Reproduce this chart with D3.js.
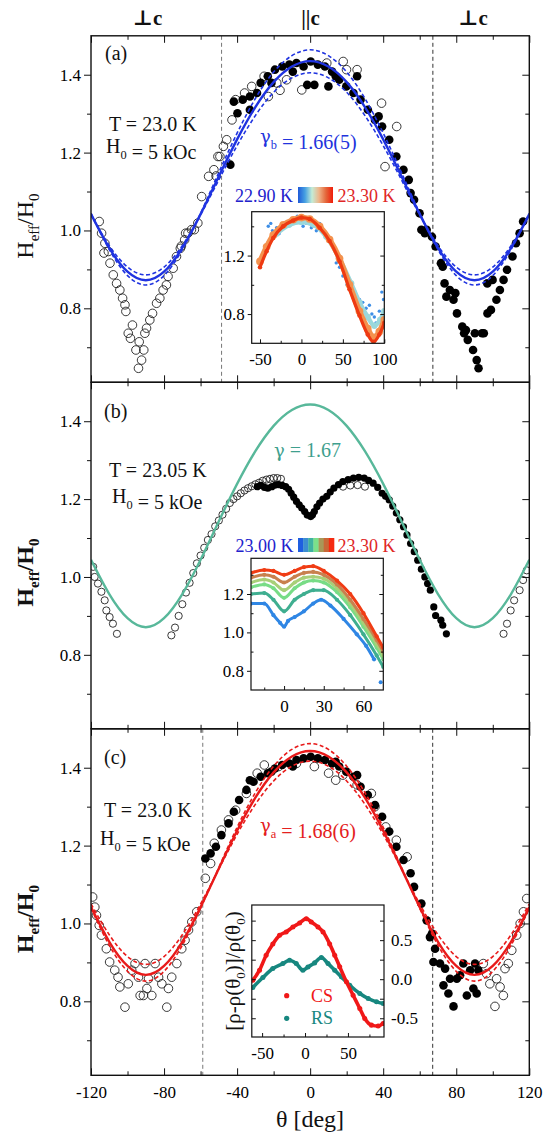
<!DOCTYPE html>
<html>
<head>
<meta charset="utf-8">
<script src="https://cdn.jsdelivr.net/npm/d3@7"></script>
<style>
  body { margin: 0; background: #fff; }
  text { font-family: "Liberation Serif", "DejaVu Serif", serif; }
</style>
</head>
<body>
<svg id="chart" width="560" height="1135"></svg>
<script>
// ---------- data ----------
const fitTheta = [-120,-110,-100,-90,-80,-70,-60,-50,-40,-30,-20,-10,0,10,20,30,40,50,60,70,80,90,100,110,120];

// panel (a): gamma_b fit and its error band
const fitA   = [1.042,0.955,0.894,0.872,0.894,0.955,1.042,1.139,1.234,1.317,1.381,1.421,1.435,1.421,1.381,1.317,1.234,1.139,1.042,0.955,0.894,0.872,0.894,0.955,1.042];
const fitAHi = [1.044,0.951,0.884,0.860,0.884,0.951,1.044,1.149,1.250,1.339,1.407,1.449,1.464,1.449,1.407,1.339,1.250,1.149,1.044,0.951,0.884,0.860,0.884,0.951,1.044];
const fitALo = [1.040,0.961,0.906,0.886,0.906,0.961,1.040,1.130,1.218,1.295,1.355,1.392,1.405,1.392,1.355,1.295,1.218,1.130,1.040,0.961,0.906,0.886,0.906,0.961,1.040];
// panel (b): gamma = 1.67
const fitB   = [1.044,0.956,0.894,0.871,0.894,0.956,1.044,1.143,1.239,1.323,1.388,1.429,1.443,1.429,1.388,1.323,1.239,1.143,1.044,0.956,0.894,0.871,0.894,0.956,1.044];
// panel (c): gamma_a fit and its error band
const fitC   = [1.042,0.953,0.891,0.868,0.891,0.953,1.042,1.141,1.238,1.323,1.388,1.429,1.443,1.429,1.388,1.323,1.238,1.141,1.042,0.953,0.891,0.868,0.891,0.953,1.042];
const fitCHi = [1.039,0.944,0.877,0.852,0.877,0.944,1.039,1.144,1.247,1.336,1.404,1.447,1.462,1.447,1.404,1.336,1.247,1.144,1.039,0.944,0.877,0.852,0.877,0.944,1.039];
const fitCLo = [1.050,0.971,0.915,0.895,0.915,0.971,1.050,1.140,1.229,1.306,1.366,1.404,1.417,1.404,1.366,1.306,1.229,1.140,1.050,0.971,0.915,0.895,0.915,0.971,1.050];

const openA = [[-115.5,1.023],[-114.2,0.993],[-112.9,0.942],[-112.4,0.967],[-110.5,0.946],[-109.6,0.916],[-107.8,0.886],[-106,0.864],[-104.2,0.847],[-102.7,0.826],[-101.4,0.809],[-100.9,0.792],[-99.6,0.736],[-98.4,0.723],[-97.3,0.757],[-95.4,0.693],[-94,0.646],[-93.6,0.714],[-92.3,0.667],[-91.1,0.693],[-90.5,0.736],[-89.6,0.749],[-87.8,0.770],[-86.3,0.787],[-84.1,0.813],[-82.3,0.826],[-80.5,0.847],[-78.7,0.860],[-77.8,0.882],[-75,0.903],[-73.2,0.933],[-71.1,0.954],[-70.5,0.960],[-68.7,0.976],[-68.2,0.993],[-66.9,0.993],[-65,1.002],[-63.4,1.002],[-61.5,1.019],[-59.4,1.087],[-55.6,1.139],[-52.7,1.156],[-51.5,1.14],[-50.5,1.19],[-49.4,1.19],[-47.5,1.216],[-45.7,1.233],[-42.8,1.284],[-40.8,1.336],[-35.9,1.353],[-32,1.37],[-25.2,1.396],[-22.9,1.344],[-18.3,1.379],[-16.5,1.36],[-12.9,1.387],[-4.6,1.361],[9.1,1.43],[18.1,1.434],[19.9,1.413],[25.7,1.413],[39.1,1.327],[41,1.164],[47.4,1.267]];
const filledA = [[-43.7,1.169],[-41.8,1.331],[-39.8,1.301],[-36.9,1.336],[-33,1.344],[-33,1.31],[-29.1,1.353],[-27.1,1.379],[-23.2,1.396],[-21.2,1.379],[-19.3,1.413],[-15.3,1.421],[-11.4,1.426],[-9.5,1.408],[-7.5,1.43],[-3.6,1.421],[-1.6,1.374],[0.3,1.434],[2.3,1.374],[4.2,1.426],[8.1,1.421],[10,1.37],[12,1.408],[14,1.396],[15.9,1.387],[19.8,1.37],[23.7,1.353],[25.7,1.396],[27.6,1.336],[31.6,1.31],[35.5,1.284],[37.5,1.293],[39.4,1.267],[43.3,1.233],[47.2,1.19],[51.1,1.156],[54,1.13],[55,1.096],[56.9,1.079],[59.9,1.044],[60.9,1.002],[62.8,0.993],[63.8,1.002],[66.7,0.984],[68.7,0.959],[71.6,0.916],[72.6,0.907],[73.6,0.864],[74.6,0.83],[76.5,0.847],[78.5,0.822],[79.5,0.839],[80.4,0.787],[83.3,0.753],[84.3,0.736],[85.3,0.744],[86.3,0.719],[89.2,0.693],[90.2,0.736],[91.2,0.667],[92.2,0.646],[94.1,0.736],[95.1,0.736],[97,0.864],[97.1,0.787],[99,0.796],[99.9,0.873],[102,0.822],[103.9,0.847],[105.9,0.873],[107.8,0.899],[110.8,0.933],[112.7,0.967],[114.7,0.993],[116.6,1.023]];

const openB = [[-118.8,1.026],[-118,1.0],[-116.2,0.983],[-114.3,0.962],[-112.5,0.94],[-111.6,0.914],[-109.8,0.897],[-108,0.88],[-105.8,0.854],
  [-76,0.85],[-74,0.87],[-72,0.9],[-70,0.93],[-68,0.96],[-66,0.985],[-64,1.01],[-62,1.035],[-60,1.055],[-58,1.075],[-56,1.095],[-54,1.11],[-52,1.13],[-50,1.145],[-48,1.16],[-46,1.175],[-44,1.19],[-42,1.2],[-40,1.207],[-38,1.215],[-36,1.222],[-34,1.228],[-32,1.233],[-30,1.238],[-28,1.242],[-26,1.247],[-24,1.25],[-22,1.252],[-20,1.254],[-18,1.254],[-16,1.252],
  [18,1.232],[22,1.235],[26,1.236],[30,1.232],
  [105.9,0.854],[107.8,0.88],[109.8,0.914],[111.7,0.94],[114.7,0.966],[116.6,0.992],[118.6,1.017]];
const filledB = [[-29,1.232],[-27,1.235],[-25,1.23],[-23.2,1.228],[-21,1.232],[-19,1.236],[-17.3,1.237],[-15.3,1.235],[-13.4,1.232],[-11.8,1.225],[-10.4,1.215],[-9,1.205],[-7.5,1.194],[-6,1.185],[-4.6,1.177],[-3,1.168],[-1.6,1.159],[0.3,1.155],[1.3,1.16],[2.3,1.168],[3.7,1.18],[5.2,1.19],[7,1.2],[9.1,1.207],[11,1.218],[13,1.228],[15.5,1.237],[17.9,1.245],[20.8,1.25],[23.7,1.254],[26.6,1.256],[29.6,1.254],[32,1.248],[34.5,1.241],[37,1.23],[39.4,1.215],[41.3,1.207],[43.3,1.198],[45.2,1.182],[47.2,1.164],[49.1,1.147],[51.1,1.129],[53,1.108],[55,1.086],[57,1.065],[58.9,1.043],[60.9,1.02],[62.8,1.0],[64.3,0.983],[65.8,0.966],[67.7,0.923],[68.7,0.901],[71.6,0.889],[72.6,0.876],[74.6,0.854]];

const openC = [[-119.1,1.068],[-117.9,1.042],[-117,1.021],[-115.5,0.995],[-114.3,0.97],[-111.6,0.935],[-109.8,0.901],[-107,0.88],[-105.2,0.862],[-104.2,0.837],[-101.4,0.785],[-99.6,0.845],[-97.7,0.88],[-95.9,0.897],[-94,0.862],[-93.1,0.815],[-91.3,0.815],[-90.4,0.897],[-89.4,0.833],[-88.5,0.858],[-86.7,0.815],[-84.9,0.897],[-83,0.862],[-81.2,0.845],[-78.5,0.785],[-77.6,0.833],[-75.8,0.862],[-73,0.897],[-70.3,0.935],[-68.5,0.957],[-66.6,0.983],[-64.8,1.004],[-62.1,1.03],
  [-57.4,1.116],[-54.5,1.154],[-52.5,1.206],[-48.6,1.24],[-44.7,1.266],[-40.8,1.291],[-34.9,1.334],[-29,1.386],[-25.1,1.407],[-17.3,1.403],[-7.5,1.411],[2.3,1.403],[10.1,1.386],[14,1.368],[17.9,1.381],[25.7,1.356],[33.5,1.334],[35.5,1.3],[41.4,1.248],[47.2,1.214],[53.1,1.171],
  [94.8,0.897],[96.6,0.871],[98.4,0.845],[101.2,0.787],[102.1,0.858],[104,0.837],[105.8,0.815],[106.7,0.884],[108.5,0.897],[110.4,0.931],[113.1,0.97],[115,1.0],[116.8,1.03],[118.6,1.064]];
const filledC = [[-57.4,1.167],[-54.5,1.18],[-51.6,1.197],[-48.6,1.227],[-44.7,1.257],[-41.8,1.287],[-38.9,1.317],[-34.9,1.343],[-33,1.368],[-31,1.364],[-27.1,1.377],[-23.2,1.386],[-21.2,1.39],[-19.3,1.398],[-15.3,1.407],[-11.4,1.411],[-9.5,1.403],[-7.5,1.42],[-3.6,1.424],[0.3,1.428],[4.2,1.424],[8.1,1.42],[12,1.411],[14,1.415],[15.9,1.403],[19.8,1.39],[23.7,1.377],[25.7,1.381],[27.6,1.351],[31.6,1.33],[35.5,1.304],[39.4,1.274],[43.3,1.236],[47.2,1.197],[51.1,1.163],[55,1.129],[56.9,1.094],[60.9,1.051],[63.8,1.008],[65.6,0.965],[66.7,0.974],
  [67.5,0.901],[68.4,0.935],[71.1,0.897],[73,0.841],[73.9,0.884],[75.7,0.82],[76.6,0.858],[78.5,0.787],[80.3,0.858],[82.1,0.867],[83.9,0.897],[85.8,0.815],[87.6,0.88],[89.4,0.833],[90.3,0.897],[91.2,0.82],[92.1,0.88]];

// inset (a): temperature series 22.90 K ... 23.30 K
const insetATheta  = [-50,-42,-34,-22,-10,0,10,22,34,46,58,70,80,87,94,100];
const insetARed    = [1.12,1.23,1.32,1.40,1.44,1.46,1.45,1.39,1.30,1.16,0.97,0.79,0.66,0.61,0.66,0.74];
const insetAOrange = [1.16,1.26,1.34,1.41,1.445,1.46,1.45,1.40,1.31,1.18,1.00,0.82,0.70,0.64,0.68,0.76];
const insetACyanTheta = [-30,-15,0,15,30,45,60,70,80,88,95,100];
const insetACyan   = [1.35,1.41,1.43,1.41,1.33,1.19,1.01,0.88,0.78,0.72,0.76,0.82];
const insetABlue   = [[-40,1.40],[-37,1.42],[-35,1.37],[-32,1.33],[-30,1.39],[-27,1.35],[-20,1.41],[-12,1.44],[-5,1.47],[-2,1.43],[2,1.40],[6,1.42],[12,1.39],[18,1.37],[22,1.42],[28,1.34],[35,1.31],[42,1.15],[46,1.12],[50,1.06],[55,1.0],[58,0.98],[62,0.93],[65,0.95],[70,0.9],[74,0.88],[78,0.84],[82,0.86],[85,0.8],[88,0.78],[90,0.74],[94,0.82],[97,0.95],[99,0.9]];
const cbarAColors  = ["#1f5ad8","#46a0e2","#c4ecd6","#eeb489","#e4663a","#f01c0a"];

// inset (b): six temperatures 23.00 K ... 23.30 K
const insetBTheta = [-25,-15,-8,0,8,15,22,30,40,50,60,70,75];
const insetBSeries = [
  [1.20,1.205,1.17,1.11,1.17,1.20,1.22,1.22,1.17,1.09,0.99,0.88,0.82],
  [1.235,1.25,1.23,1.18,1.23,1.26,1.27,1.26,1.21,1.13,1.03,0.92,0.86],
  [1.26,1.275,1.26,1.22,1.26,1.285,1.29,1.28,1.23,1.15,1.05,0.94,0.88],
  [1.285,1.30,1.29,1.26,1.29,1.31,1.315,1.30,1.25,1.17,1.07,0.96,0.90],
  [1.31,1.325,1.32,1.30,1.32,1.34,1.345,1.32,1.27,1.20,1.10,0.98,0.92]
];
const insetBColors = ["#3fae90","#78dc86","#a8cf78","#c8804e","#f03c14"];
const insetBBlueTheta = [-25,-15,-8,-3,0,3,8,15,22,28,35,45,55,62,68];
const insetBBlue = [1.15,1.15,1.09,1.05,1.03,1.06,1.08,1.11,1.15,1.17,1.14,1.07,0.99,0.93,0.86];
const insetBBlueLone = [[73,0.74]];
const cbarBColors = ["#1f5fe0","#3c8ed0","#3fb3a0","#7be08a","#a89858","#c86838","#f52a10"];

// inset (c): resistivity anisotropy, CS and RS
const csTheta = [-60.8,-53,-45.3,-37.5,-29.7,-22,-14.1,-6.3,1.5,7.3,15.1,21,28.7,34.6,40.4,48.2,56,63.8,69.6,77.4,85.2,91];
const csValue = [-0.013,0.115,0.307,0.452,0.562,0.605,0.668,0.72,0.775,0.732,0.668,0.605,0.452,0.307,0.16,-0.034,-0.205,-0.375,-0.503,-0.588,-0.6,-0.567];
const rsTheta = [-60.8,-49.1,-37.5,-25.8,-18,-10.2,-2.5,3.4,11.2,19,26.8,34.6,42.4,52.1,63.8,73.6,83.3,91];
const rsValue = [-0.106,0.021,0.136,0.2,0.243,0.2,0.115,0.157,0.209,0.277,0.2,0.115,0.03,-0.077,-0.183,-0.247,-0.29,-0.31];

// axis ticks
const xMajor = [-120,-80,-40,0,40,80,120];
const xMinor = [-100,-60,-20,20,60,100];
const yMajor = [0.8,1.0,1.2,1.4];
const yMinor = [0.7,0.9,1.1,1.3];

// ---------- layout ----------
const svg = d3.select("#chart");
const defs = svg.append("defs");
const left = 91, right = 529.3, panelH = 346.5;
const panelTop = [35.8, 382.3, 728.8];
const x = d3.scaleLinear().domain([-120, 120]).range([left, right]);
const noLabel = () => "";
const serif = "Liberation Serif, DejaVu Serif, serif";

function addAxis(gen, tx, ty, size, values, fmt, fontSize, pad) {
  const g = svg.append("g").attr("transform", `translate(${tx},${ty})`)
    .call(gen.tickValues(values).tickSize(size).tickPadding(pad || 3).tickFormat(fmt || noLabel));
  g.select(".domain").remove();
  g.attr("font-family", serif).attr("font-size", fontSize || 17);
  g.selectAll(".tick line").attr("stroke", "#111").attr("stroke-width", 1);
  return g;
}

// parts: plain strings, or {t, dy} for subscripts, or {g} for a gamma glyph
function addText(parts, xPos, yPos, size, color, weight) {
  const t = svg.append("text").attr("x", xPos).attr("y", yPos)
    .attr("font-size", size).attr("fill", color || "#111").attr("font-weight", weight || "normal");
  parts.forEach(p => {
    if (typeof p === "string") t.append("tspan").text(p);
    else if (p.g) t.append("tspan").attr("font-family", "DejaVu Serif").attr("font-size", size * 0.9).text(p.g);
    else t.append("tspan").attr("font-size", size * 0.62).attr("dy", p.dy).text(p.t);
  });
  return t;
}

// ---------- main panels ----------
const panels = [
  { fit: fitA, dashed: [fitAHi, fitALo], color: "#1f33e0", open: openA, filled: filledA, r: 4.3, vlines: [-48.5, 67.2] },
  { fit: fitB, dashed: [], color: "#58b89a", open: openB, filled: filledB, r: 3.6, vlines: [] },
  { fit: fitC, dashed: [fitCHi, fitCLo], color: "#e81a1a", open: openC, filled: filledC, r: 4.3, vlines: [-58.8, 67.1] }
];

panels.forEach((p, i) => {
  const top = panelTop[i];
  const y = d3.scaleLinear().domain([0.61, 1.5]).range([top + panelH, top]);
  const clipId = "clip-main-" + i;
  defs.append("clipPath").attr("id", clipId).append("rect")
    .attr("x", left).attr("y", top).attr("width", right - left).attr("height", panelH);
  const body = svg.append("g").attr("clip-path", `url(#${clipId})`);

  p.vlines.forEach((v, k) => {
    body.append("line").attr("x1", x(v)).attr("x2", x(v)).attr("y1", top).attr("y2", top + panelH)
      .attr("stroke", k === 0 ? "#777" : "#333").attr("stroke-width", 1).attr("stroke-dasharray", "4,3");
  });

  body.append("g").selectAll("circle").data(p.open).join("circle")
    .attr("cx", d => x(d[0])).attr("cy", d => y(d[1])).attr("r", p.r)
    .attr("fill", "none").attr("stroke", "#222").attr("stroke-width", 0.9);
  body.append("g").selectAll("circle").data(p.filled).join("circle")
    .attr("cx", d => x(d[0])).attr("cy", d => y(d[1])).attr("r", p.r).attr("fill", "#000");

  const line = d3.line().x((d, j) => x(fitTheta[j])).y(d => y(d)).curve(d3.curveNatural);
  p.dashed.forEach(arr => body.append("path").datum(arr).attr("d", line).attr("fill", "none")
    .attr("stroke", p.color).attr("stroke-width", 1.6).attr("stroke-dasharray", "4,2.5"));
  body.append("path").datum(p.fit).attr("d", line).attr("fill", "none")
    .attr("stroke", p.color).attr("stroke-width", 2.4);

  // axes: left ticks outward with labels, the rest inward
  addAxis(d3.axisLeft(y), left, 0, 7, yMajor, d => d.toFixed(1), 17, 3);
  addAxis(d3.axisLeft(y), left, 0, 4, yMinor);
  addAxis(d3.axisRight(y), right, 0, -7, yMajor);
  addAxis(d3.axisRight(y), right, 0, -4, yMinor);
  addAxis(d3.axisTop(x), 0, top, -7, xMajor);
  addAxis(d3.axisTop(x), 0, top, -4, xMinor);
  addAxis(d3.axisBottom(x), 0, top + panelH, -7, xMajor, i === 2 ? (d => String(d)) : noLabel, 17, 11);
  addAxis(d3.axisBottom(x), 0, top + panelH, -4, xMinor);

  svg.append("rect").attr("x", left).attr("y", top).attr("width", right - left).attr("height", panelH)
    .attr("fill", "none").attr("stroke", "#111").attr("stroke-width", 1.4);

  // y title
  const yl = svg.append("text").attr("transform", `translate(33,${top + panelH / 2 + 17}) rotate(-90)`)
    .attr("text-anchor", "middle").attr("font-size", 24).attr("fill", "#111")
    .attr("font-weight", i === 0 ? "normal" : "bold");
  yl.append("tspan").text("H");
  yl.append("tspan").attr("font-size", 15).attr("dy", 6).text("eff");
  yl.append("tspan").attr("dy", -6).text("/H");
  yl.append("tspan").attr("font-size", 15).attr("dy", 6).text("0");
});

// ---------- insets ----------
function drawInset(c) {
  const xs = d3.scaleLinear().domain(c.xd).range([c.x0, c.x0 + c.w]);
  const ys = d3.scaleLinear().domain(c.yd).range([c.y0 + c.h, c.y0]);
  svg.append("rect").attr("x", c.x0).attr("y", c.y0).attr("width", c.w).attr("height", c.h).attr("fill", "#fff");
  defs.append("clipPath").attr("id", c.id).append("rect")
    .attr("x", c.x0).attr("y", c.y0).attr("width", c.w).attr("height", c.h);
  const body = svg.append("g").attr("clip-path", `url(#${c.id})`);
  c.draw(body, xs, ys);

  addAxis(d3.axisBottom(xs), 0, c.y0 + c.h, -4, c.xMajor, d => String(d), 17, 10);
  addAxis(d3.axisBottom(xs), 0, c.y0 + c.h, -2.5, c.xMinor);
  if (c.rightLabels) {
    addAxis(d3.axisLeft(ys), c.x0, 0, -4, c.yMajor.concat(c.yMinor));
    addAxis(d3.axisRight(ys), c.x0 + c.w, 0, -4, c.yMajor.concat(c.yMinor),
      d => (c.yMajor.includes(d) ? d.toFixed(1) : ""), 17, 7);
  } else {
    addAxis(d3.axisLeft(ys), c.x0, 0, 4, c.yMajor, d => d.toFixed(1), 17, 3);
    addAxis(d3.axisLeft(ys), c.x0, 0, -2.5, c.yMinor);
    addAxis(d3.axisRight(ys), c.x0 + c.w, 0, -4, c.yMajor);
    addAxis(d3.axisRight(ys), c.x0 + c.w, 0, -2.5, c.yMinor);
  }
  svg.append("rect").attr("x", c.x0).attr("y", c.y0).attr("width", c.w).attr("height", c.h)
    .attr("fill", "none").attr("stroke", "#111").attr("stroke-width", 1.2);
}

// dense-dot look: a thick line plus a dot at every read-off point
function dottedSeries(body, xs, ys, thetas, values, color, width) {
  const ln = d3.line().x((d, j) => xs(thetas[j])).y(d => ys(d)).curve(d3.curveMonotoneX);
  body.append("path").datum(values).attr("d", ln).attr("fill", "none").attr("stroke", color)
    .attr("stroke-width", width).attr("stroke-linecap", "round").attr("stroke-linejoin", "round");
  body.append("g").selectAll("circle").data(values).join("circle")
    .attr("cx", (d, j) => xs(thetas[j])).attr("cy", d => ys(d)).attr("r", width * 0.7).attr("fill", color);
}

drawInset({
  id: "clip-inset-a", x0: 251.7, y0: 211.7, w: 132.6, h: 131.6, xd: [-60, 100], yd: [0.6, 1.5],
  xMajor: [-50, 0, 50, 100], xMinor: [-25, 25, 75], yMajor: [0.8, 1.2], yMinor: [1.0, 1.4],
  draw: (body, xs, ys) => {
    body.append("g").selectAll("circle").data(insetABlue).join("circle")
      .attr("cx", d => xs(d[0])).attr("cy", d => ys(d[1])).attr("r", 1.7).attr("fill", "#3d8ee6");
    dottedSeries(body, xs, ys, insetACyanTheta, insetACyan, "#9ad8dc", 4.5);
    dottedSeries(body, xs, ys, insetATheta, insetAOrange, "#f4924e", 5.5);
    dottedSeries(body, xs, ys, insetATheta, insetARed, "#ee3a12", 3.2);
  }
});

drawInset({
  id: "clip-inset-b", x0: 251, y0: 558.3, w: 132.3, h: 131.7, xd: [-25, 75], yd: [0.7, 1.386],
  xMajor: [0, 30, 60], xMinor: [-15, 15, 45], yMajor: [0.8, 1.0, 1.2], yMinor: [0.9, 1.1, 1.3],
  draw: (body, xs, ys) => {
    dottedSeries(body, xs, ys, insetBBlueTheta, insetBBlue, "#2f86e4", 3);
    body.append("g").selectAll("circle").data(insetBBlueLone).join("circle")
      .attr("cx", d => xs(d[0])).attr("cy", d => ys(d[1])).attr("r", 2).attr("fill", "#2f86e4");
    insetBSeries.forEach((s, k) => dottedSeries(body, xs, ys, insetBTheta, s, insetBColors[k], 3));
  }
});

drawInset({
  id: "clip-inset-c", x0: 251.8, y0: 905, w: 132.2, h: 132, xd: [-62, 92], yd: [-0.74, 0.95],
  xMajor: [-50, 0, 50], xMinor: [-25, 25, 75], yMajor: [-0.5, 0, 0.5], yMinor: [-0.25, 0.25, 0.75],
  rightLabels: true,
  draw: (body, xs, ys) => {
    dottedSeries(body, xs, ys, rsTheta, rsValue, "#17877f", 3.6);
    dottedSeries(body, xs, ys, csTheta, csValue, "#f01818", 3.6);
  }
});

// colour bars
const gradA = defs.append("linearGradient").attr("id", "cbarA");
cbarAColors.forEach((c, k) => gradA.append("stop").attr("offset", k / (cbarAColors.length - 1)).attr("stop-color", c));
svg.append("rect").attr("x", 298).attr("y", 187).attr("width", 35).attr("height", 16).attr("fill", "url(#cbarA)");
const stripeX = d3.scaleBand().domain(d3.range(cbarBColors.length)).range([298, 334]);
svg.append("g").selectAll("rect").data(cbarBColors).join("rect")
  .attr("x", (d, k) => stripeX(k)).attr("y", 538).attr("width", stripeX.bandwidth() + 0.3).attr("height", 14)
  .attr("fill", d => d);
addText(["22.90 K"], 235, 201.7, 18, "#2222cc");
addText(["23.30 K"], 337.5, 201.7, 18, "#e02626");
addText(["23.00 K"], 235.5, 551.7, 18, "#2222cc");
addText(["23.30 K"], 337.5, 551.7, 18, "#e02626");

// inset (c) legend and label
svg.append("circle").attr("cx", 286.7).attr("cy", 995.7).attr("r", 2.6).attr("fill", "#f01818");
svg.append("circle").attr("cx", 286.7).attr("cy", 1018.3).attr("r", 2.6).attr("fill", "#17877f");
addText(["CS"], 311, 1001.5, 18, "#f01818");
addText(["RS"], 311, 1024, 18, "#17877f");
const rl = svg.append("text").attr("transform", "translate(240,971) rotate(-90)")
  .attr("text-anchor", "middle").attr("font-size", 21).attr("fill", "#111");
rl.append("tspan").text("[ρ-ρ(θ");
rl.append("tspan").attr("font-size", 13).attr("dy", 5).text("0");
rl.append("tspan").attr("dy", -5).text(")]/ρ(θ");
rl.append("tspan").attr("font-size", 13).attr("dy", 5).text("0");
rl.append("tspan").attr("dy", -5).text(")");

// ---------- annotations ----------
addText(["⊥c"], 147.5, 25, 21, "#111", "bold").attr("text-anchor", "middle");
addText(["||c"], 310.5, 25, 21, "#111", "bold").attr("text-anchor", "middle");
addText(["⊥c"], 473, 25, 21, "#111", "bold").attr("text-anchor", "middle");

addText(["(a)"], 105, 60, 20);
addText(["T = 23.0 K"], 109, 131, 20);
addText(["H", { t: "0", dy: 6 }, { t: "", dy: -6 }, " = 5 kOc"], 106, 152.7, 20);
addText([{ g: "γ" }, { t: "b", dy: 6 }, { t: "", dy: -6 }, " = 1.66(5)"], 260, 143, 20, "#2233dd");

addText(["(b)"], 104, 418, 20);
addText(["T = 23.05 K"], 109, 477, 20);
addText(["H", { t: "0", dy: 6 }, { t: "", dy: -6 }, " = 5 kOe"], 112, 503, 20);
addText([{ g: "γ" }, " = 1.67"], 274, 457, 20, "#3f9f8e");

addText(["(c)"], 104, 764, 20);
addText(["T = 23.0 K"], 104, 817, 20);
addText(["H", { t: "0", dy: 6 }, { t: "", dy: -6 }, " = 5 kOe"], 100, 845, 20);
addText([{ g: "γ" }, { t: "a", dy: 6 }, { t: "", dy: -6 }, " = 1.68(6)"], 260, 832, 20, "#e42020");

addText(["θ [deg]"], 310, 1127, 24).attr("text-anchor", "middle");
</script>
</body>
</html>
